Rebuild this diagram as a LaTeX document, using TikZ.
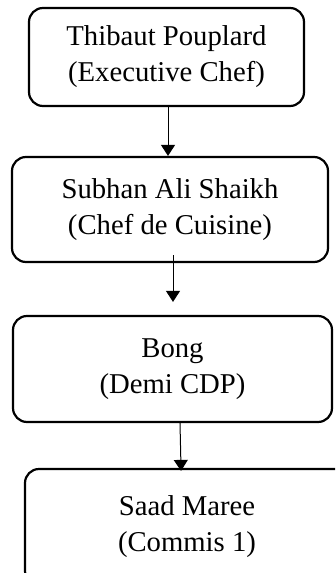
\documentclass[tikz,border=0pt]{standalone}
\usepackage{fontspec}
\setmainfont{Liberation Serif}
\usetikzlibrary{arrows.meta}

\begin{document}
\begin{tikzpicture}
  [x=1pt,y=-1pt,every node/.style={draw,line width=2.2pt,rounded corners=14pt,align=center,
   font=\fontsize{28.7}{36}\selectfont,inner sep=0pt},
   arr/.style={line width=1pt,-{Triangle[length=11pt,width=14pt]}}]
  \clip (0,0) rectangle (335,573);
  \node[minimum width=275pt,minimum height=98pt] (chef) at (166.5,57) {Thibaut Pouplard\\(Executive Chef)};
  \node[minimum width=316pt,minimum height=105pt] (cuisine) at (170,209.5) {Subhan Ali Shaikh\\(Chef de Cuisine)};
  \node[minimum width=319pt,minimum height=106pt] (demi) at (172.5,369) {Bong\\(Demi CDP)};
  \node[minimum width=324pt,minimum height=116pt] (commis) at (187,527) {Saad Maree\\(Commis 1)};

\foreach \from/\to/\sa/\sb/\sh/\st in
{chef/cuisine/1.5pt/-2pt/0pt/0pt, cuisine/demi/3pt/0.5pt/-8pt/13pt, demi/commis/7.5pt/-6pt/-1pt/-3pt}
    \draw[arr,shorten <=\sh,shorten >=\st] ([xshift=\sa]\from.south) -- ([xshift=\sb]\to.north);
\end{tikzpicture}
\end{document}
